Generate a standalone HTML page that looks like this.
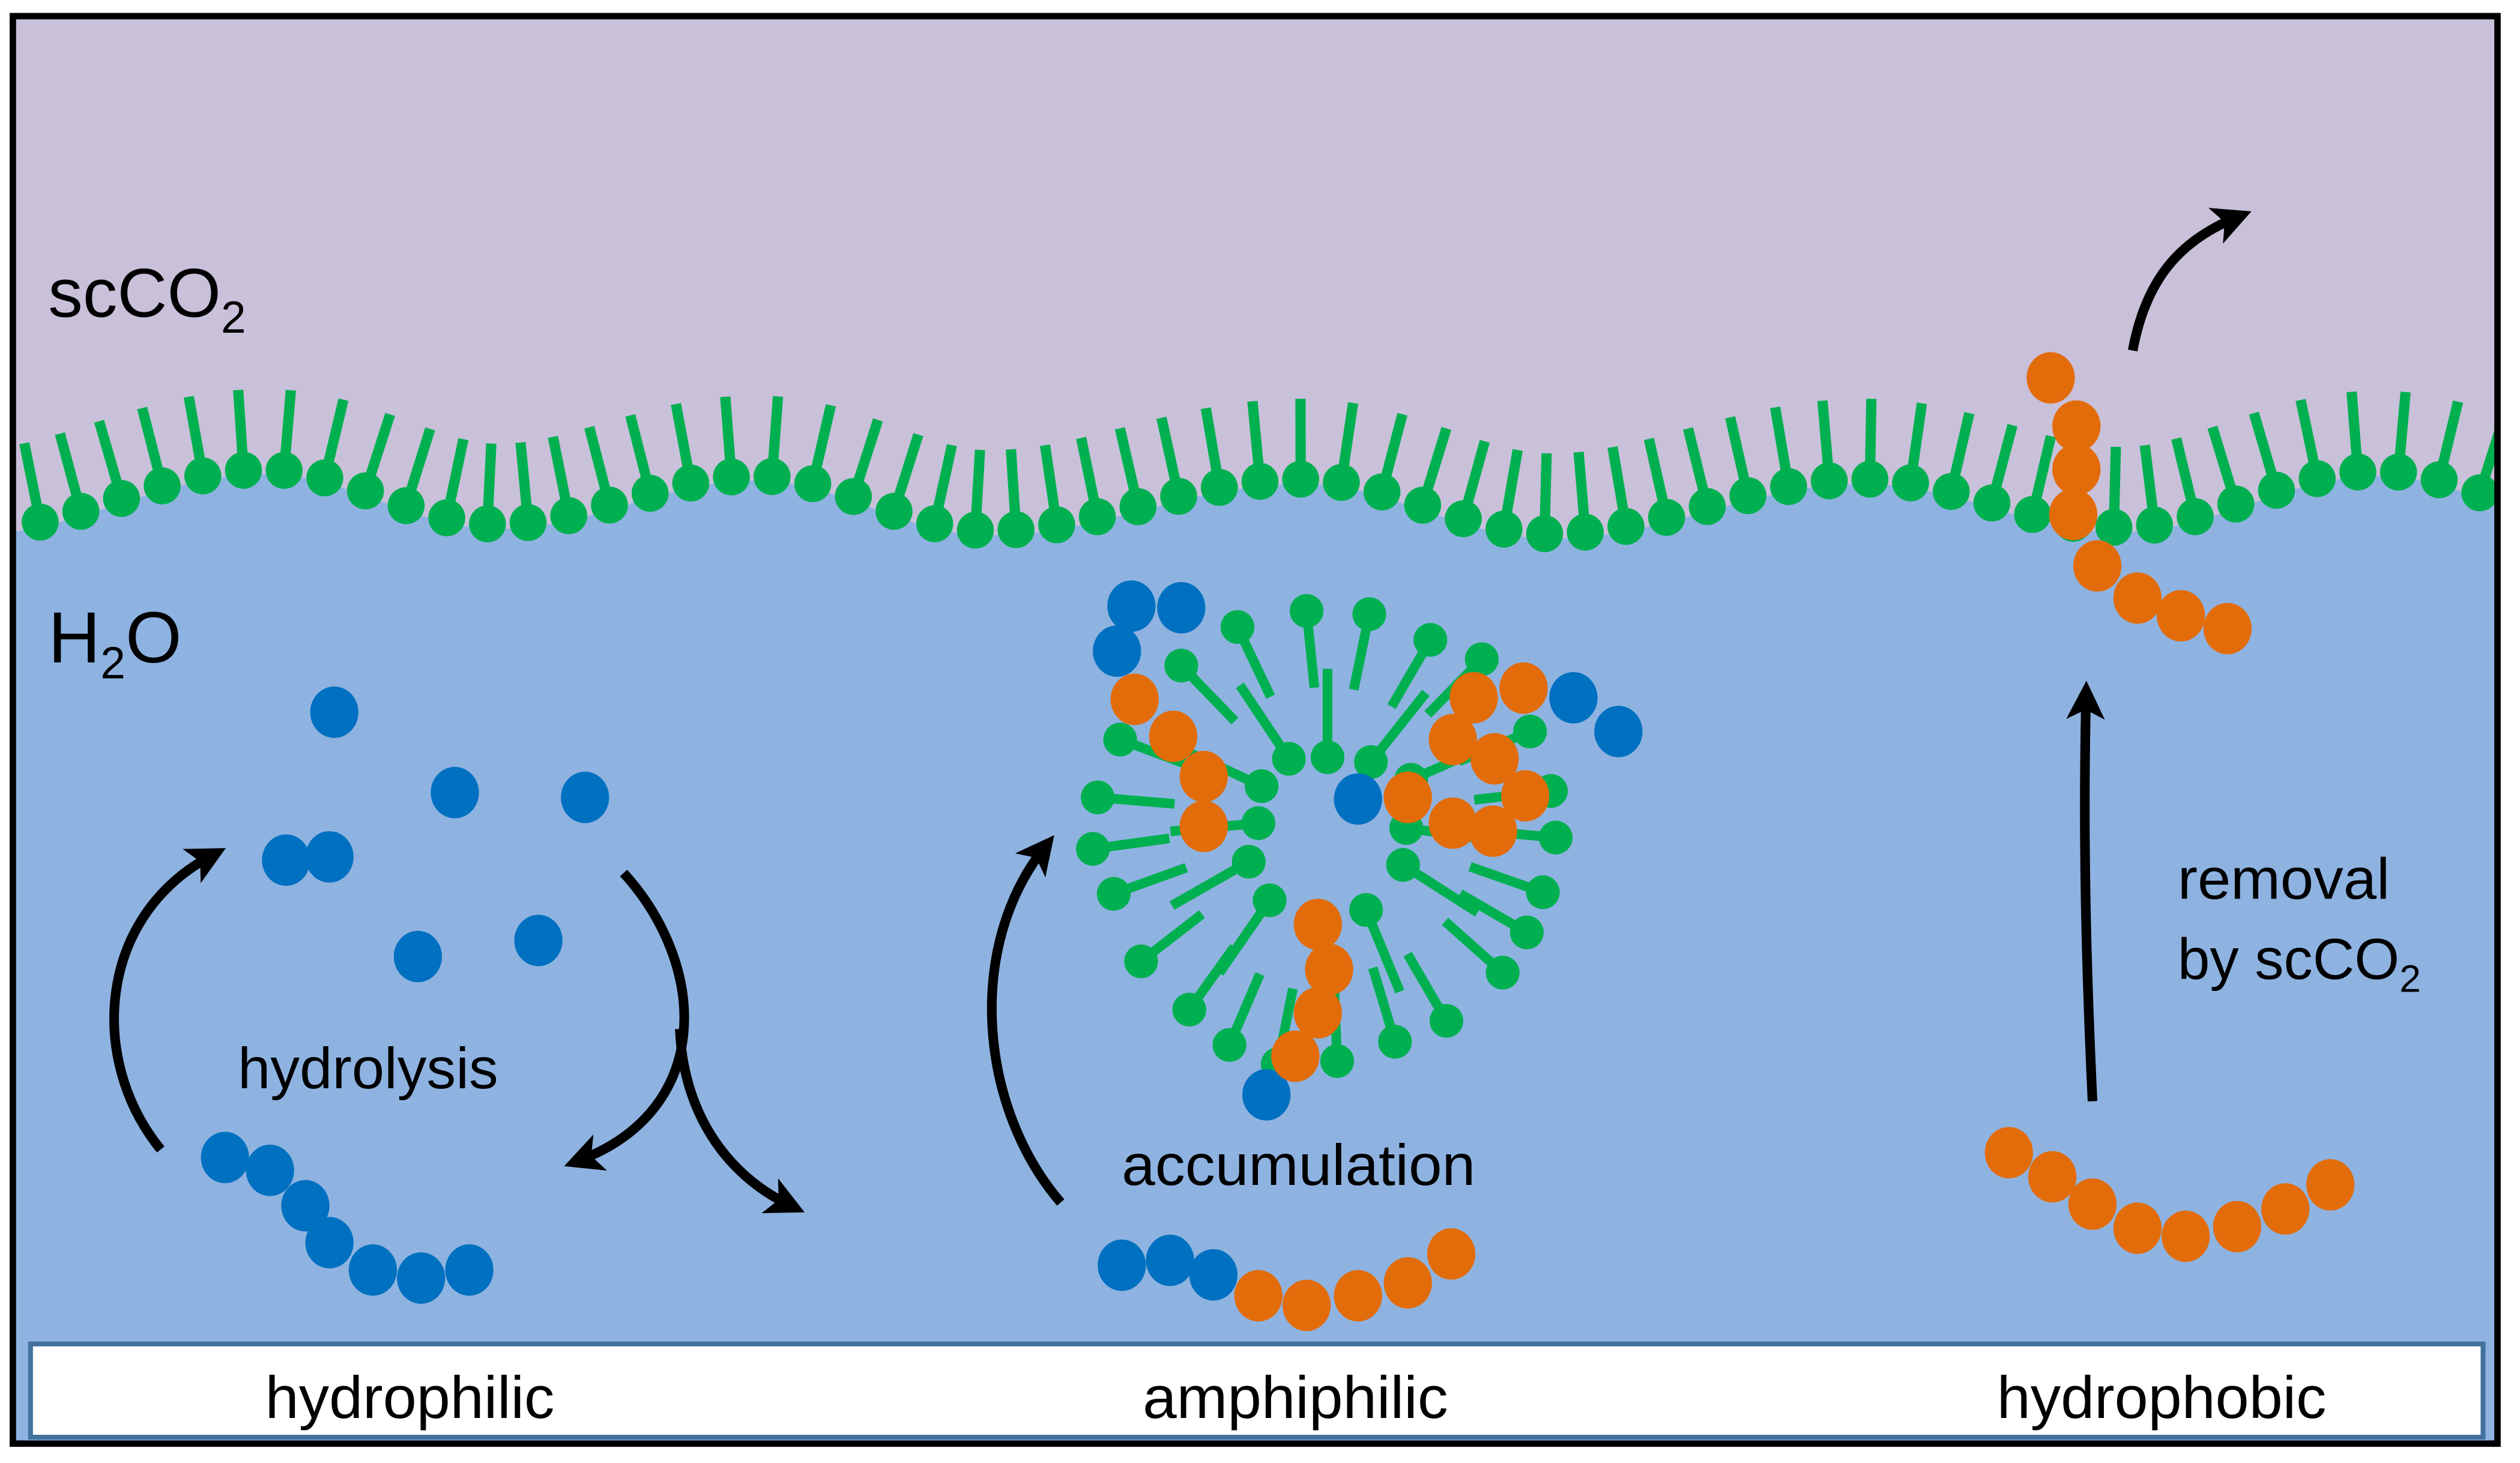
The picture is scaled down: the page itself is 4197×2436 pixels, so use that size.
<!DOCTYPE html>
<html><head><meta charset="utf-8"><style>
html,body{margin:0;padding:0;background:#fff}
svg{display:block}
text{font-family:"Liberation Sans",sans-serif;fill:#000}
</style></head><body>
<svg id="s" width="4197" height="2436" viewBox="0 0 1568 910" xmlns="http://www.w3.org/2000/svg">
<defs>
<marker id="ah" viewBox="0 0 10 10" refX="6" refY="5" markerWidth="4" markerHeight="4" orient="auto" markerUnits="strokeWidth">
<path d="M0,0 L10,5 L0,10 L2.5,5 z" fill="#000"/>
</marker>
<clipPath id="fr"><rect x="8" y="10" width="1546" height="888"/></clipPath>
</defs>
<rect x="0" y="0" width="1568" height="910" fill="#fff"/>
<rect x="8" y="10" width="1546" height="888" fill="#c9c0da"/>
<path id="water" fill="#8eb3e1" d=""/>
<g id="mem" clip-path="url(#fr)"></g>
<g id="mic"></g>
<g id="beads"></g>
<g fill="none" stroke="#000" stroke-width="6" marker-end="url(#ah)">
<path d="M100,715 C55,660 60,570 132,532"/>
<path d="M388,543 C440,600 445,690 360,722"/>
<path d="M423,640 C425,690 450,730 492,750"/>
<path d="M660,748 C610,690 600,590 650,527"/>
<path d="M1302,685 C1298,600 1296,520 1298,433"/>
<path d="M1327,218 C1335,175 1355,150 1392,135"/>
</g>
<text x="30" y="197" font-size="43">scCO<tspan font-size="28" dy="10">2</tspan></text>
<text x="30" y="412" font-size="45">H<tspan font-size="28" dy="10">2</tspan><tspan dy="-10">O</tspan></text>
<text x="229" y="677" font-size="36" text-anchor="middle" textLength="162" lengthAdjust="spacingAndGlyphs">hydrolysis</text>
<text x="808" y="737" font-size="36" text-anchor="middle" textLength="220" lengthAdjust="spacingAndGlyphs">accumulation</text>
<text x="1355" y="559" font-size="36" textLength="132" lengthAdjust="spacingAndGlyphs">removal</text>
<text x="1355" y="609" font-size="36">by scCO<tspan font-size="24" dy="8">2</tspan></text>
<rect x="19" y="836" width="1526" height="58" fill="#fff" stroke="#41719c" stroke-width="3"/>
<text x="255" y="882" font-size="37" text-anchor="middle" textLength="180" lengthAdjust="spacingAndGlyphs">hydrophilic</text>
<text x="806" y="882" font-size="37" text-anchor="middle" textLength="190" lengthAdjust="spacingAndGlyphs">amphiphilic</text>
<text x="1345" y="882" font-size="37" text-anchor="middle" textLength="205" lengthAdjust="spacingAndGlyphs">hydrophobic</text>
<rect x="8" y="10" width="1546" height="888" fill="none" stroke="#000" stroke-width="4"/>
</svg>
<script>
var NS="http://www.w3.org/2000/svg";
function el(p,t,a){var e=document.createElementNS(NS,t);for(var k in a)e.setAttribute(k,a[k]);p.appendChild(e);return e;}
var G="#00b050",B="#0070c0",O="#e36c0a";
var kp=[[-20,330],[165,292],[310,326],[470,296],[615,330],[810,298],[965,332],[1160,298],[1320,328],[1480,293],[1620,325]];
function wy(x){for(var i=0;i<kp.length-1;i++){var a=kp[i],b=kp[i+1];if(x>=a[0]&&x<=b[0]){var t=(x-a[0])/(b[0]-a[0]);return a[1]+(b[1]-a[1])*(1-Math.cos(Math.PI*t))/2;}}return 320;}
var d="M8,"+wy(8);
for(var x=8;x<=1554;x+=4)d+=" L"+x+","+(wy(x)+3);
d+=" L1554,898 L8,898 Z";
document.getElementById("water").setAttribute("d",d);
var mem=document.getElementById("mem");
for(var i=0;i<62;i++){var x=25+i*25.3;if(x>1545)break;var y=wy(x);
var sl=(wy(x+2)-wy(x-2))/4;var nx=0.9*sl,ny=-1,n=Math.hypot(nx,ny);nx/=n;ny/=n;
el(mem,"line",{x1:x,y1:y,x2:x+nx*50,y2:y+ny*50,stroke:G,"stroke-width":6.4});
el(mem,"ellipse",{cx:x,cy:y,rx:11.5,ry:11.5,fill:G});}
var mic=document.getElementById("mic");var cx=826,cy=508;
var outer=[[770,390],[813,380],[852,382],[890,398],[922,410],[952,455],[965,492],[968,521],[960,555],[950,580],[935,605],[900,635],[868,648],[832,660],[795,662],[765,650],[740,628],[710,598],[693,556],[680,528],[683,496],[697,460],[735,414]];
outer.forEach(function(p){var dx=cx-p[0],dy=cy-p[1],n=Math.hypot(dx,dy);
el(mic,"line",{x1:p[0],y1:p[1],x2:p[0]+dx/n*48,y2:p[1]+dy/n*48,stroke:G,"stroke-width":6});
el(mic,"circle",{cx:p[0],cy:p[1],r:10.5,fill:G});});
var inner=[[802,472],[826,471],[853,474],[785,489],[777,536],[783,512],[873,538],[878,485],[875,515],[790,560],[822,570],[850,566]];
inner.forEach(function(p){var dx=p[0]-cx,dy=p[1]-cy,n=Math.hypot(dx,dy);
el(mic,"line",{x1:p[0],y1:p[1],x2:p[0]+dx/n*55,y2:p[1]+dy/n*55,stroke:G,"stroke-width":6});
el(mic,"circle",{cx:p[0],cy:p[1],r:10.5,fill:G});});
var bd=document.getElementById("beads");
function bs(c,arr,r){arr.forEach(function(p){el(bd,"ellipse",{cx:p[0],cy:p[1],rx:r||15,ry:(r||15)+1,fill:c});});}
bs(B,[[208,443],[283,493],[364,496],[178,535],[205,533],[260,595],[335,585]]);
bs(B,[[140,720],[168,728],[190,750],[205,773],[232,790],[262,795],[292,790]]);
bs(B,[[704,377],[735,378],[695,405],[845,497],[979,434],[1007,455],[788,681]]);
bs(O,[[706,435],[730,458],[749,483],[749,514]]);
bs(O,[[948,428],[917,434],[904,460],[930,472],[949,495],[929,517],[904,512],[876,496]]);
bs(O,[[820,575],[827,603],[820,630],[806,657]]);
bs(B,[[698,787],[728,784],[755,793]]);
bs(O,[[783,806],[813,812],[845,806],[876,798],[903,780]]);
bs(O,[[1250,717],[1277,732],[1302,749],[1330,764],[1360,769],[1392,763],[1422,752],[1450,737]]);
bs(O,[[1276,235],[1292,265],[1292,292],[1290,320],[1305,352],[1330,372],[1357,383],[1386,391]]);
</script>
</body></html>
